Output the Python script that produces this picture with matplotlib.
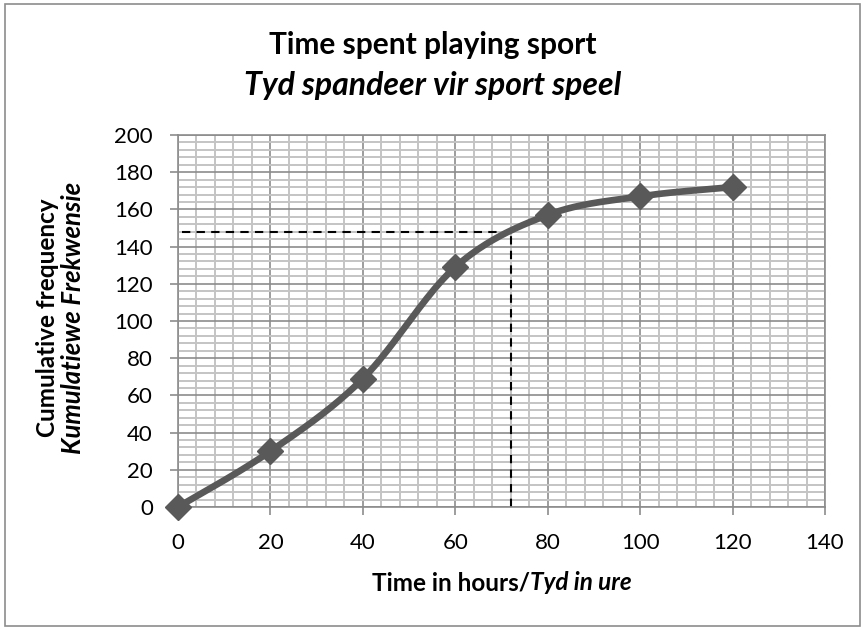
import numpy as np
import matplotlib
matplotlib.use("Agg")
import matplotlib.pyplot as plt
from matplotlib.ticker import MultipleLocator
from matplotlib.patches import Rectangle

# ---- data ----
hours = [0, 20, 40, 60, 80, 100, 120]
cum_freq = [0, 30, 69, 129, 157, 167, 172]
median_x = 72
median_y = 148

title1 = "Time spent playing sport"
title2 = "Tyd spandeer vir sport speel"
ylab1 = "Cumulative frequency"
ylab2 = "Kumulatiewe Frekwensie"
xlab1 = "Time in hours/"
xlab2 = "Tyd in ure"

FONT = "Lato"
plt.rcParams['font.family'] = [FONT, 'DejaVu Sans']

W, H = 865, 630
L, R, T, B = 178, 825, 135, 507
fig = plt.figure(figsize=(W/100, H/100), dpi=100)
ax = fig.add_axes([L/W, 1-B/H, (R-L)/W, (B-T)/H])

# outer frame
fig.patches.append(Rectangle((5/W, 4/H), 855/W, 622/H, transform=fig.transFigure,
                             fill=False, edgecolor='#8c8c8c', lw=1.2, zorder=0))

ax.set_xlim(0, 140)
ax.set_ylim(0, 200)
ax.xaxis.set_major_locator(MultipleLocator(20))
ax.yaxis.set_major_locator(MultipleLocator(20))
ax.xaxis.set_minor_locator(MultipleLocator(4))
ax.yaxis.set_minor_locator(MultipleLocator(4))
ax.grid(which='minor', color='#c4c4c4', lw=1.4, zorder=0)
ax.grid(which='major', color='#8c8c8c', lw=1.2, zorder=0.5)
ax.set_axisbelow(True)
ax.tick_params(which='minor', length=0)
ax.tick_params(which='major', length=6, width=1.2, color='#8c8c8c', labelsize=16,
               labelcolor='black')
ax.tick_params(axis='y', pad=12)
ax.tick_params(axis='x', pad=13)
for s in ax.spines.values():
    s.set_color('#8c8c8c')
    s.set_linewidth(1.2)

# smoothed curve (Catmull-Rom / Bezier as in spreadsheet smoothing)
P = np.column_stack([hours, cum_freq]).astype(float)
n = len(P)
curve = []
for i in range(n - 1):
    p0 = P[i - 1] if i > 0 else P[i]
    p1 = P[i]
    p2 = P[i + 1]
    p3 = P[i + 2] if i + 2 < n else P[i + 1]
    c1 = p1 + (p2 - p0) / 6
    c2 = p2 - (p3 - p1) / 6
    t = np.linspace(0, 1, 40)[:, None]
    seg = (1-t)**3*p1 + 3*(1-t)**2*t*c1 + 3*(1-t)*t**2*c2 + t**3*p2
    curve.append(seg if i == 0 else seg[1:])
curve = np.vstack(curve)
ax.plot(curve[:, 0], curve[:, 1], color='#595959', lw=4.8, solid_capstyle='round', zorder=3, clip_on=False)
ax.plot(hours, cum_freq, linestyle='none', marker='D', ms=13, color='#595959', zorder=4, clip_on=False)

# median dashed lines
ax.plot([0.8, median_x], [median_y, median_y], color='black', lw=1.5, ls=(0, (4, 3)), zorder=2.5)
ax.plot([median_x, median_x], [0, median_y], color='black', lw=1.5, ls=(0, (4, 3)), zorder=2.5)

# title (centred on the figure)
fig.text(0.5, 1-45/H, title1, ha='center', va='center', fontsize=21.5, fontweight='bold')
fig.text(0.5, 1-86/H, title2, ha='center', va='center', fontsize=23, fontweight='bold', style='italic')

# y label
fig.text(48/W, 1-318/H, ylab1, rotation=90, ha='center', va='center', fontsize=17.5, fontweight='bold')
fig.text(73/W, 1-318/H, ylab2, rotation=90, ha='center', va='center', fontsize=18.5,
         fontweight='bold', style='italic')

# x label (mixed style), centred on the plot area
cx = (L + R) / 2 / W
fig.canvas.draw()
r = fig.canvas.get_renderer()
t1 = fig.text(0, 1-583/H, xlab1, ha='left', va='center', fontsize=17.5, fontweight='bold')
t2 = fig.text(0, 1-583/H, xlab2, ha='left', va='center', fontsize=17.5, fontweight='bold', style='italic')
w1 = t1.get_window_extent(r).width / W
w2 = t2.get_window_extent(r).width / W
start = cx - (w1 + w2) / 2
t1.set_x(start)
t2.set_x(start + w1)

fig.savefig("out.png", dpi=100)
